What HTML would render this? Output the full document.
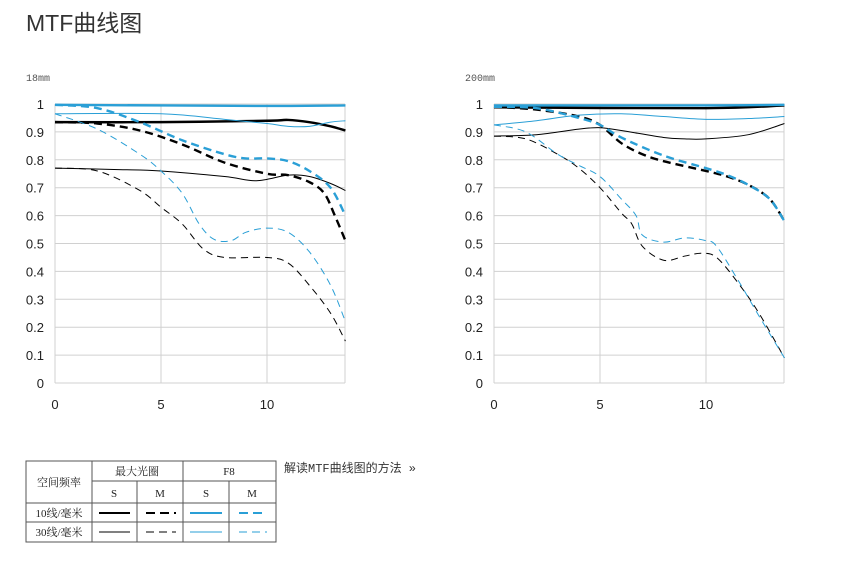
<!DOCTYPE html>
<html><head><meta charset="utf-8"><style>
body{margin:0;background:#fff;width:853px;height:572px;overflow:hidden;font-family:"Liberation Sans","Noto Sans CJK SC",sans-serif}
svg{position:absolute;left:0;top:0}
</style></head><body>
<svg width="853" height="572">
<text x="26" y="31" font-size="23" fill="#333" font-family="Liberation Sans, Noto Sans CJK SC, sans-serif">MTF曲线图</text>
<g id="c1"></g>
<g id="c2"></g>
<g font-family="Liberation Serif, Noto Serif CJK SC, serif" font-size="11" fill="#222" text-anchor="middle">
<rect x="26" y="461" width="250" height="81" fill="none" stroke="#555"/>
<line x1="92" y1="461" x2="92" y2="542" stroke="#555"/>
<line x1="183" y1="461" x2="183" y2="542" stroke="#555"/>
<line x1="137" y1="481" x2="137" y2="542" stroke="#555"/>
<line x1="229" y1="481" x2="229" y2="542" stroke="#555"/>
<line x1="92" y1="481" x2="276" y2="481" stroke="#555"/>
<line x1="26" y1="503" x2="276" y2="503" stroke="#555"/>
<line x1="26" y1="522" x2="276" y2="522" stroke="#555"/>
<text x="59" y="486">空间频率</text>
<text x="137" y="475">最大光圈</text>
<text x="229" y="475">F8</text>
<text x="114" y="497">S</text><text x="160" y="497">M</text><text x="206" y="497">S</text><text x="252" y="497">M</text>
<text x="59" y="517">10线/毫米</text><text x="59" y="536">30线/毫米</text>
<line x1="99" y1="513" x2="130" y2="513" stroke="#000" stroke-width="2"/>
<line x1="146" y1="513" x2="176" y2="513" stroke="#000" stroke-width="2" stroke-dasharray="9,5"/>
<line x1="190" y1="513" x2="222" y2="513" stroke="#2a9fd6" stroke-width="2"/>
<line x1="239" y1="513" x2="267" y2="513" stroke="#2a9fd6" stroke-width="2" stroke-dasharray="9,5"/>
<line x1="99" y1="532" x2="130" y2="532" stroke="#000" stroke-width="1"/>
<line x1="146" y1="532" x2="176" y2="532" stroke="#000" stroke-width="1" stroke-dasharray="8,5"/>
<line x1="190" y1="532" x2="222" y2="532" stroke="#2a9fd6" stroke-width="1"/>
<line x1="239" y1="532" x2="267" y2="532" stroke="#2a9fd6" stroke-width="1" stroke-dasharray="8,5"/>
</g>
<text x="284" y="472" font-size="12" fill="#333" font-family="Liberation Mono, Noto Sans CJK SC, sans-serif">解读MTF曲线图的方法 »</text>
</svg>
<script>
const xTicks=[0,5,10];
const yTicks=[0,0.1,0.2,0.3,0.4,0.5,0.6,0.7,0.8,0.9,1];
const yTickLabels=["0","0.1","0.2","0.3","0.4","0.5","0.6","0.7","0.8","0.9","1"];
const seriesNames=["10-wide-s","10-wide-m","30-wide-s","30-wide-m","10-f8-s","10-f8-m","30-f8-s","30-f8-m"];
const w18_10S=[[0,0.935],[5,0.935],[10,0.94],[11,0.943],[12,0.935],[13,0.92],[13.7,0.905]];
const w18_10M=[[0,0.935],[2,0.93],[4,0.905],[6,0.855],[8,0.79],[10,0.75],[11,0.745],[12,0.72],[12.7,0.68],[13.2,0.6],[13.7,0.51]];
const w18_30S=[[0,0.77],[3,0.765],[5,0.76],[8,0.74],[9.5,0.725],[11,0.745],[12,0.74],[13,0.715],[13.7,0.69]];
const w18_30M=[[0,0.77],[2,0.76],[4,0.69],[5,0.63],[6,0.57],[7,0.48],[8,0.45],[10,0.45],[11,0.43],[12,0.35],[13,0.25],[13.7,0.15]];
const f18_10S=[[0,0.997],[10,0.993],[13.7,0.995]];
const f18_10M=[[0,0.997],[2,0.985],[4,0.935],[6,0.87],[8,0.82],[9,0.805],[10,0.805],[11,0.795],[12,0.76],[13,0.7],[13.7,0.6]];
const f18_30S=[[0,0.965],[5,0.965],[8,0.945],[10,0.93],[11,0.92],[12,0.92],[13,0.935],[13.7,0.94]];
const f18_30M=[[0,0.965],[2,0.91],[4,0.82],[5,0.76],[6,0.68],[6.8,0.57],[7.5,0.515],[8.3,0.51],[9,0.54],[10,0.555],[11,0.54],[12,0.47],[13,0.35],[13.7,0.22]];
const w200_10S=[[0,0.988],[10,0.985],[13.7,0.995]];
const w200_10M=[[0,0.99],[2,0.98],[4,0.955],[5,0.925],[6,0.86],[7,0.82],[8,0.795],[10,0.76],[11,0.74],[12,0.71],[13,0.66],[13.7,0.58]];
const w200_30S=[[0,0.885],[2,0.89],[4,0.91],[5,0.915],[6,0.905],[8,0.88],[9,0.875],[10,0.875],[12,0.89],[13.7,0.93]];
const w200_30M=[[0,0.885],[1.5,0.875],[3,0.82],[4,0.77],[5,0.7],[6,0.61],[6.5,0.57],[7,0.49],[8,0.44],[9,0.455],[9.8,0.465],[10.5,0.45],[11.5,0.36],[12.5,0.25],[13.7,0.09]];
const f200_10S=[[0,0.995],[10,0.995],[13.7,0.997]];
const f200_10M=[[0,0.99],[2,0.985],[4,0.95],[5,0.925],[6,0.88],[8,0.815],[10,0.77],[11,0.745],[12,0.71],[13,0.66],[13.7,0.58]];
const f200_30S=[[0,0.925],[2,0.94],[4,0.96],[6,0.965],[8,0.955],[10,0.945],[12,0.948],[13.7,0.955]];
const f200_30M=[[0,0.925],[1.5,0.9],[3,0.82],[4,0.78],[5,0.74],[6,0.66],[6.7,0.6],[7,0.53],[8,0.505],[9,0.52],[10,0.51],[10.5,0.49],[11.5,0.37],[12.5,0.24],[13.7,0.09]];
const NS="http://www.w3.org/2000/svg";
const BLUE="#2a9fd6";
const styles=[["#000",2.4,""],["#000",2.4,"8,5"],["#000",1,""],["#000",1,"7,5"],[BLUE,2.4,""],[BLUE,2.4,"8,5"],[BLUE,1,""],[BLUE,1,"7,5"]];
function mk(g,tag,at){const e=document.createElementNS(NS,tag);for(const k in at)e.setAttribute(k,at[k]);g.appendChild(e);return e;}
function path(pts){let d="M"+pts[0][0]+","+pts[0][1];for(let i=0;i<pts.length-1;i++){const p0=pts[i-1]||pts[i],p1=pts[i],p2=pts[i+1],p3=pts[i+2]||p2;
d+=" C"+(p1[0]+(p2[0]-p0[0])/6)+","+(p1[1]+(p2[1]-p0[1])/6)+" "+(p2[0]-(p3[0]-p1[0])/6)+","+(p2[1]-(p3[1]-p1[1])/6)+" "+p2[0]+","+p2[1];}return d;}
function chart(id,x0,label,series){
 const g=document.getElementById(id);
 const xs=v=>x0+v*21.2, ys=v=>383-v*279, xR=x0+290;
 const t=mk(g,"text",{x:x0-29,y:81,"font-size":10,fill:"#555","font-family":"Liberation Mono, monospace"});t.textContent=label;
 
 
 yTicks.forEach((v,i)=>{const l=mk(g,"line",{x1:x0,x2:xR,y1:ys(v),y2:ys(v),stroke:"#d0d0d0"});
  
  
  const tx=mk(g,"text",{x:x0-11,y:ys(v)+5,"font-size":13,fill:"#222","text-anchor":"end"});tx.textContent=yTickLabels[i];
  
  });
 xTicks.forEach(v=>{const l=mk(g,"line",{x1:xs(v),x2:xs(v),y1:ys(1),y2:ys(0),stroke:"#d0d0d0"});
  
  
  const tx=mk(g,"text",{x:xs(v),y:409,"font-size":13,fill:"#222","text-anchor":"middle"});tx.textContent=String(v);
  
  });
 mk(g,"line",{x1:xR,x2:xR,y1:ys(1),y2:ys(0),stroke:"#d0d0d0"});
 series.forEach((s,i)=>{const st=styles[i];const p=mk(g,"path",{d:path(s.map(q=>[xs(q[0]),ys(q[1])])),fill:"none",stroke:st[0],"stroke-width":st[1]});
  if(st[2])p.setAttribute("stroke-dasharray",st[2]);
  
  });
}
chart("c1",55,"18mm",[w18_10S,w18_10M,w18_30S,w18_30M,f18_10S,f18_10M,f18_30S,f18_30M]);
chart("c2",494,"200mm",[w200_10S,w200_10M,w200_30S,w200_30M,f200_10S,f200_10M,f200_30S,f200_30M]);
</script>
</body></html>
